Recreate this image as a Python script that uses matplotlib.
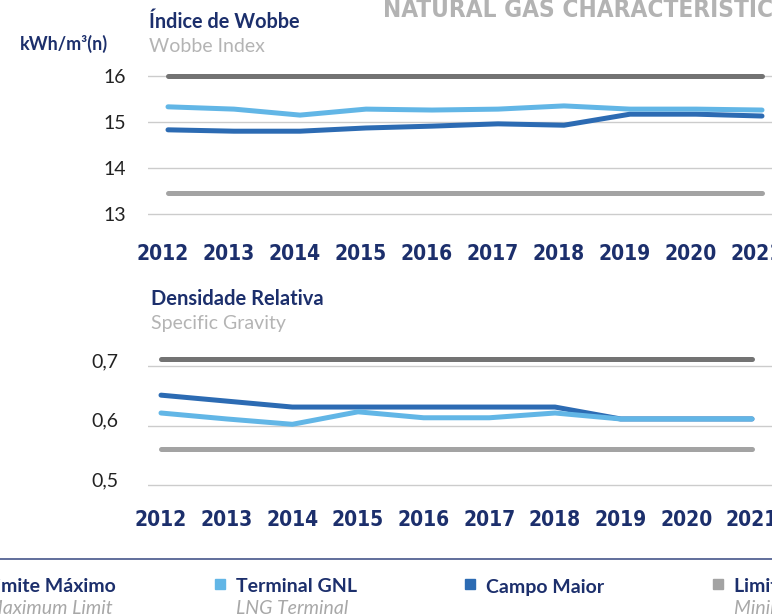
import matplotlib
matplotlib.use("Agg")
import matplotlib.pyplot as plt
import matplotlib.transforms as mtransforms
from matplotlib.patches import Rectangle
from matplotlib.lines import Line2D

years = [2012, 2013, 2014, 2015, 2016, 2017, 2018, 2019, 2020, 2021]

# Wobbe index (kWh/m3(n))
wobbe_max = [16.0] * 10
wobbe_min = [13.45] * 10
wobbe_gnl = [15.33, 15.28, 15.15, 15.28, 15.26, 15.28, 15.35, 15.28, 15.28, 15.26]
wobbe_campo = [14.83, 14.80, 14.80, 14.87, 14.91, 14.96, 14.93, 15.17, 15.17, 15.13]

# relative density
dens_max = [0.712] * 10
dens_min = [0.56] * 10
dens_gnl = [0.621, 0.611, 0.602, 0.623, 0.613, 0.613, 0.621, 0.611, 0.611, 0.611]
dens_campo = [0.651, 0.641, 0.631, 0.631, 0.631, 0.631, 0.631, 0.611, 0.611, 0.611]

wobbe_ticks = [13, 14, 15, 16]
dens_ticks = [0.5, 0.6, 0.7]
dens_labels = ["0,5", "0,6", "0,7"]

NAVY = "#1c2f6c"
GREY_TXT = "#b4b4b4"
C_MAX = "#737373"
C_MIN = "#a3a3a3"
C_GNL = "#62b6e6"
C_CAMPO = "#2c6bb3"
GRID = "#cccccc"

W, H = 772, 614
fig = plt.figure(figsize=(W / 100, H / 100), dpi=100)


def fx(px):
    return px / W


def fy(py):
    return 1 - py / H


def ptext(x, y, s, **kw):
    fig.text(fx(x), fy(y), s, **kw)


year_font = dict(family="DejaVu Sans", stretch="condensed", weight="bold",
                 size=15, color=NAVY)


def make_axes(top, bottom, xlim, ylim):
    ax = fig.add_axes([fx(148), fy(bottom), fx(772 - 148), (bottom - top) / H])
    ax.set_xlim(*xlim)
    ax.set_ylim(*ylim)
    for s in ax.spines.values():
        s.set_visible(False)
    ax.tick_params(length=0)
    ax.patch.set_alpha(0)
    return ax


def draw_lines(ax, mx, mn, gnl, campo):
    lw = 3.6
    ax.plot(years, mx, color=C_MAX, lw=lw, solid_capstyle="round", zorder=3)
    ax.plot(years, mn, color=C_MIN, lw=lw, solid_capstyle="round", zorder=3)
    ax.plot(years, campo, color=C_CAMPO, lw=lw, solid_capstyle="round", zorder=4)
    ax.plot(years, gnl, color=C_GNL, lw=lw, solid_capstyle="round", zorder=5)


# --- top chart: Wobbe index ---
ax1 = make_axes(70, 220, (2012 - 20 / 66, 2021 + 10 / 66), (13 - 6 / 46, 16 + 6 / 46))
for t in wobbe_ticks:
    ax1.axhline(t, color=GRID, lw=1, zorder=1)
draw_lines(ax1, wobbe_max, wobbe_min, wobbe_gnl, wobbe_campo)
ax1.set_yticks(wobbe_ticks)
ax1.set_yticklabels([str(t) for t in wobbe_ticks], family="Lato", size=14, color="#222222")
ax1.tick_params(axis="y", pad=16)
ax1.set_xticks(years)
ax1.set_xticklabels([str(y) for y in years], **year_font)
ax1.tick_params(axis="x", pad=17)
shift = mtransforms.ScaledTranslation(-5 / 100, 0, fig.dpi_scale_trans)
for lab in ax1.get_xticklabels():
    lab.set_transform(lab.get_transform() + shift)

# --- bottom chart: relative density ---
ax2 = make_axes(355, 495, (2012 - 13 / 65.67, 2021 + 20 / 65.67),
                (0.5 - 10 / 595, 0.7 + 11 / 595))
for t in dens_ticks:
    ax2.axhline(t, color=GRID, lw=1, zorder=1)
draw_lines(ax2, dens_max, dens_min, dens_gnl, dens_campo)
ax2.set_yticks(dens_ticks)
ax2.set_yticklabels(dens_labels, family="Lato", size=14, color="#222222")
ax2.tick_params(axis="y", pad=21)
up = mtransforms.ScaledTranslation(0, 6 / 100, fig.dpi_scale_trans)
for lab in ax2.get_yticklabels():
    lab.set_transform(lab.get_transform() + up)
ax2.set_xticks(years)
ax2.set_xticklabels([str(y) for y in years], **year_font)
ax2.tick_params(axis="x", pad=11)

# --- titles ---
ptext(383, 17, "NATURAL GAS CHARACTERISTICS", family="DejaVu Sans", stretch="condensed",
      weight="bold", size=17.5, color="#b3b3b3", va="baseline")
ptext(149, 22, "Índice de Wobbe", family="Lato", weight="bold", size=14.3, color=NAVY, va="center")
ptext(149, 47, "Wobbe Index", family="Lato", size=14, color=GREY_TXT, va="center")
ptext(20, 44, "kWh/m³(n)", family="Lato", weight="bold", size=13, color=NAVY, va="center")
ptext(151, 299, "Densidade Relativa", family="Lato", weight="bold", size=14.5, color=NAVY, va="center")
ptext(151, 324, "Specific Gravity", family="Lato", size=14, color=GREY_TXT, va="center")

# --- legend strip ---
fig.add_artist(Line2D([0, 1], [fy(559), fy(559)], color="#46558a", lw=1.2))
legend_items = [
    (-35, C_MAX, "Limite Máximo", "Maximum Limit"),
    (215, C_GNL, "Terminal GNL", "LNG Terminal"),
    (465, C_CAMPO, "Campo Maior", ""),
    (713, C_MIN, "Limite Mínimo", "Minimum Limit"),
]
for x0, col, pt, en in legend_items:
    fig.add_artist(Rectangle((fx(x0), fy(589)), fx(10), 10 / H, color=col,
                             transform=fig.transFigure))
    ptext(x0 + 21, 587, pt, family="Lato", weight="bold", size=14, color=NAVY, va="center")
    if en:
        ptext(x0 + 21, 608, en, family="Lato", style="italic", size=14, color="#a8a8a8",
              va="center")

fig.savefig("out.png", dpi=100)
